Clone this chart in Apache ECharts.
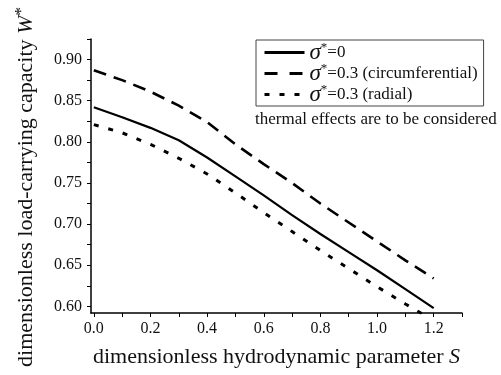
<!DOCTYPE html>
<html>
<head>
<meta charset="utf-8">
<script src="https://cdn.jsdelivr.net/npm/echarts@6/dist/echarts.min.js"></script>
<style>
html,body{margin:0;padding:0;background:#fff;}
#c{width:501px;height:375px;}
</style>
</head>
<body>
<div id="c"></div>
<script>
// Data
const S = [0.0, 0.1, 0.2, 0.3, 0.4, 0.5, 0.6, 0.7, 0.8, 0.9, 1.0, 1.1, 1.2];
const W_sigma0 = [0.842, 0.830, 0.817, 0.802, 0.781, 0.758, 0.735, 0.711, 0.688, 0.666, 0.644, 0.621, 0.598];
const W_circ = [0.887, 0.875, 0.861, 0.844, 0.824, 0.797, 0.773, 0.750, 0.725, 0.702, 0.679, 0.656, 0.634];
const W_radial = [0.821, 0.811, 0.797, 0.780, 0.761, 0.738, 0.714, 0.691, 0.668, 0.646, 0.624, 0.603, 0.583];
const seriesNames = ['s0', 'circ', 'radial'];
const legendTexts = ['=0', '=0.3 (circumferential)', '=0.3 (radial)'];
const xLabels = [0.0, 0.2, 0.4, 0.6, 0.8, 1.0, 1.2];
const xTicks = [0.0, 0.1, 0.2, 0.3, 0.4, 0.5, 0.6, 0.7, 0.8, 0.9, 1.0, 1.1, 1.2, 1.3];
const yLabels = [0.60, 0.65, 0.70, 0.75, 0.80, 0.85, 0.90];
const yTicks = [0.600, 0.625, 0.650, 0.675, 0.700, 0.725, 0.750, 0.775, 0.800, 0.825, 0.850, 0.875, 0.900, 0.925];

const serif = 'Liberation Serif';
const pairs = (xs, ys) => xs.map((x, i) => [x, ys[i]]);

const chart = echarts.init(document.getElementById('c'), null, {renderer: 'canvas'});
const legendMap = {};
seriesNames.forEach((n, i) => legendMap[n] = legendTexts[i]);

chart.setOption({
  animation: false,
  backgroundColor: '#fff',
  textStyle: {fontFamily: serif, color: '#111'},
  color: ['#000', '#000', '#000'],
  grid: {left: 91, right: 39, top: 39, bottom: 62, containLabel: false, outerBoundsMode: 'none'},
  xAxis: {
    type: 'value', min: -0.01, max: 1.3,
    name: 'dimensionless hydrodynamic parameter {i|S}',
    nameLocation: 'middle', nameGap: 44,
    nameTextStyle: {fontFamily: serif, fontSize: 22, color: '#111', verticalAlign: 'middle',
      rich: {i: {fontFamily: serif, fontSize: 22, fontStyle: 'italic', color: '#111'}}},
    splitLine: {show: false},
    axisLine: {show: true, onZero: false, lineStyle: {color: '#000', width: 1.5}},
    axisTick: {show: true, inside: false, length: 4, customValues: xTicks, lineStyle: {color: '#000', width: 1}},
    axisLabel: {customValues: xLabels, margin: 8, fontFamily: serif, fontSize: 16, color: '#111',
      formatter: v => v.toFixed(1)}
  },
  yAxis: {
    type: 'value', min: 0.592, max: 0.925,
    name: 'dimensionless load-carrying capacity {w|W}{a|*}',
    nameLocation: 'middle', nameGap: 51, nameRotate: 90,
    nameTextStyle: {fontFamily: serif, fontSize: 22, color: '#111', padding: [0, 22, 0, 0],
      rich: {
        w: {fontFamily: serif, fontSize: 22, fontStyle: 'italic', color: '#111'},
        a: {fontFamily: serif, fontSize: 17, color: '#111', verticalAlign: 'top', padding: [0, 0, 10, 0]}
      }},
    splitLine: {show: false},
    axisLine: {show: true, onZero: false, lineStyle: {color: '#000', width: 1.5}},
    axisTick: {show: true, inside: false, length: 4, customValues: yTicks, lineStyle: {color: '#000', width: 1}},
    axisLabel: {customValues: yLabels, margin: 9, fontFamily: serif, fontSize: 16, color: '#111',
      formatter: v => v.toFixed(2)}
  },
  legend: {
    orient: 'vertical', left: 256, top: 40,
    itemWidth: 40, itemHeight: 14, itemGap: -2,
    padding: [1, 6, 0, 7],
    borderColor: '#444', borderWidth: 1,
    itemStyle: {opacity: 0},
    data: [
      {name: 's0', lineStyle: {type: 'solid', width: 2.8}},
      {name: 'circ', lineStyle: {type: [13, 12], width: 3}},
      {name: 'radial', lineStyle: {type: [5, 10], width: 3}}
    ],
    formatter: n => '{g|σ}{a|*}{t|' + legendMap[n] + '}',
    textStyle: {
      fontFamily: serif, fontSize: 17, color: '#111',
      rich: {
        g: {fontFamily: serif, fontSize: 23, fontStyle: 'italic', color: '#111'},
        a: {fontFamily: serif, fontSize: 13, color: '#111', verticalAlign: 'top'},
        t: {fontFamily: serif, fontSize: 17, color: '#111'}
      }
    }
  },
  graphic: [{
    type: 'text', left: 255, top: 111,
    style: {text: 'thermal effects are to be considered', font: '17px "Liberation Serif"', fill: '#111'}
  }],
  series: [
    {name: 's0', type: 'line', data: pairs(S, W_sigma0), symbol: 'none', clip: true,
     itemStyle: {color: '#000'},
     lineStyle: {color: '#000', width: 2.2, type: 'solid'}},
    {name: 'circ', type: 'line', data: pairs(S, W_circ), symbol: 'none', clip: true,
     itemStyle: {color: '#000'},
     lineStyle: {color: '#000', width: 2.6, type: [13, 8]}},
    {name: 'radial', type: 'line', data: pairs(S, W_radial), symbol: 'none', clip: true,
     itemStyle: {color: '#000'},
     lineStyle: {color: '#000', width: 3, type: [5, 10]}}
  ]
});
</script>
</body>
</html>
